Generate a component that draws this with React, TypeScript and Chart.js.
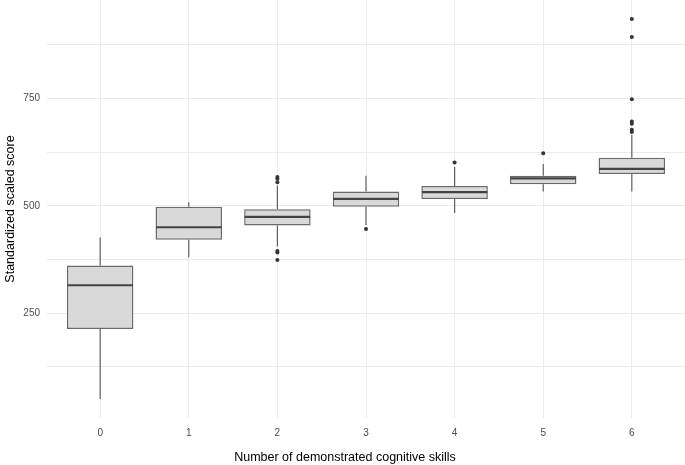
import React, { useEffect, useRef } from "react";
import { Chart, registerables } from "chart.js";

Chart.register(...registerables);

const categories = [0, 1, 2, 3, 4, 5, 6];
const lowerWhisker = [50, 380, 405, 455, 483, 533, 533];
const q1 = [213, 421, 454, 498, 516, 550, 574];
const median = [315, 450, 474, 516, 532, 564, 586];
const q3 = [361, 498, 492, 533, 546, 570, 612];
const upperWhisker = [426, 508, 547, 570, 590, 597, 665];
const outlierCategory = [2, 2, 2, 2, 2, 2, 3, 4, 5, 6, 6, 6, 6, 6, 6, 6];
const outlierValue = [567, 563, 555, 395, 391, 374, 446, 601, 622, 935, 893, 748, 696, 691, 677, 672];
const yTicks = [125, 250, 375, 500, 625, 750, 875];
const yLabelTicks = [250, 500, 750];
const xTitle = "Number of demonstrated cognitive skills";
const yTitle = "Standardized scaled score";

const FONT = "'Liberation Sans', Arial, sans-serif";

const whiskerPlugin = {
  id: "whiskers",
  afterDatasetsDraw(chart: any) {
    const { ctx, scales } = chart;
    const xs = scales.x;
    const ys = scales.y;
    const halfW = (xs.getPixelForValue(1) - xs.getPixelForValue(0)) * 0.75 / 2;
    ctx.save();
    categories.forEach((c, i) => {
      const x = xs.getPixelForValue(c);
      ctx.strokeStyle = "#5f5f5f";
      ctx.lineWidth = 1.2;
      ctx.beginPath();
      ctx.moveTo(x, ys.getPixelForValue(q3[i]));
      ctx.lineTo(x, ys.getPixelForValue(upperWhisker[i]));
      ctx.moveTo(x, ys.getPixelForValue(q1[i]));
      ctx.lineTo(x, ys.getPixelForValue(lowerWhisker[i]));
      ctx.stroke();
      ctx.strokeStyle = "#444444";
      ctx.lineWidth = 2.2;
      ctx.beginPath();
      const my = ys.getPixelForValue(median[i]);
      ctx.moveTo(x - halfW + 0.5, my);
      ctx.lineTo(x + halfW - 0.5, my);
      ctx.stroke();
    });
    ctx.restore();
  },
  afterDraw(chart: any) {
    const { ctx } = chart;
    ctx.save();
    ctx.fillStyle = "#000000";
    ctx.font = `12.5px ${FONT}`;
    ctx.textAlign = "center";
    ctx.textBaseline = "middle";
    ctx.fillText(xTitle, 345, 458);
    ctx.restore();
  },
};

const zeroPad = (s: any) => {
  s.paddingTop = 0;
  s.paddingBottom = 0;
  s.paddingLeft = 0;
  s.paddingRight = 0;
};

export default function App() {
  const ref = useRef<HTMLCanvasElement>(null);
  useEffect(() => {
    document.body.style.margin = "0";
    const chart = new Chart(ref.current as HTMLCanvasElement, {
      type: "bar",
      data: {
        datasets: [
          {
            type: "bar",
            data: categories.map((c, i) => ({ x: c, y: [q1[i], q3[i]] })) as any,
            backgroundColor: "#d9d9d9",
            borderColor: "#6a6a6a",
            borderWidth: 1.5,
            borderSkipped: false,
            barPercentage: 0.75,
            categoryPercentage: 1,
            order: 2,
          } as any,
          {
            type: "scatter",
            data: outlierCategory.map((c, i) => ({ x: c, y: outlierValue[i] })),
            backgroundColor: "#333333",
            borderColor: "#333333",
            pointRadius: 2,
            borderWidth: 0,
            order: 1,
          } as any,
        ],
      },
      options: {
        responsive: false,
        animation: false,
        layout: { padding: 0, autoPadding: false },
        plugins: { legend: { display: false }, tooltip: { enabled: false } },
        scales: {
          x: {
            type: "linear",
            min: -0.6,
            max: 6.6,
            offset: false,
            afterBuildTicks: (s: any) => {
              s.ticks = categories.map((v) => ({ value: v }));
            },
            afterFit: (s: any) => {
              s.height = 47;
              zeroPad(s);
            },
            grid: { color: "#ebebeb", lineWidth: 1, drawTicks: false, offset: false },
            border: { display: false },
            ticks: {
              color: "#4d4d4d",
              font: { family: FONT, size: 10 },
              padding: 9,
              callback: (v: any) => String(v),
            },
            title: { display: false },
          },
          y: {
            type: "linear",
            min: 6,
            max: 979,
            afterBuildTicks: (s: any) => {
              s.ticks = yTicks.map((v) => ({ value: v }));
            },
            afterFit: (s: any) => {
              s.width = 47;
              zeroPad(s);
            },
            grid: { color: "#ebebeb", lineWidth: 1, drawTicks: false },
            border: { display: false },
            ticks: {
              color: "#4d4d4d",
              font: { family: FONT, size: 10 },
              padding: 7,
              callback: (v: any) => (yLabelTicks.includes(Number(v)) ? String(v) : ""),
            },
            title: {
              display: true,
              text: yTitle,
              color: "#000000",
              font: { family: FONT, size: 12.5 },
              padding: { top: 3, bottom: 0 },
            },
          },
        },
      },
      plugins: [whiskerPlugin],
    } as any);
    return () => chart.destroy();
  }, []);
  return (
    <div style={{ width: 685, height: 465 }}>
      <canvas ref={ref} width={685} height={465} />
    </div>
  );
}
